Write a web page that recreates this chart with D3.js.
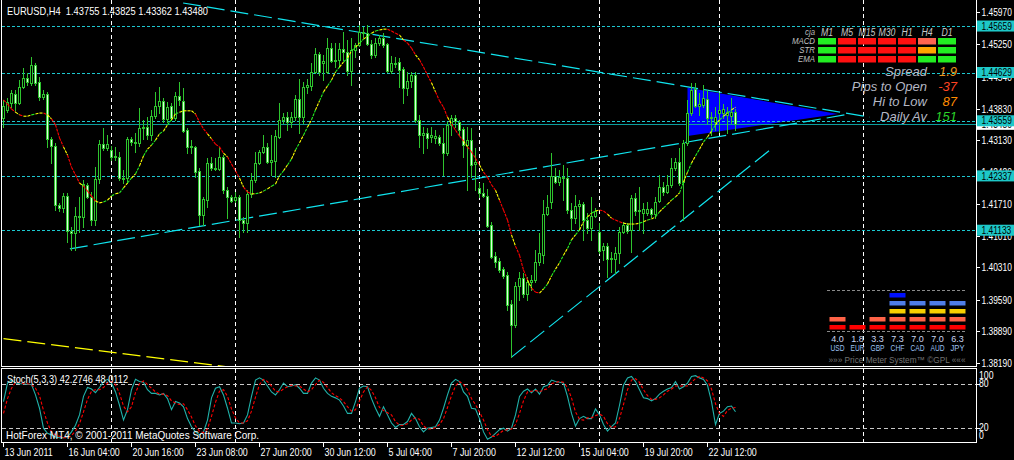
<!DOCTYPE html>
<html><head><meta charset="utf-8">
<script src="https://cdn.jsdelivr.net/npm/d3@7"></script>
<style>
html,body{margin:0;padding:0;background:#000;overflow:hidden}
svg{display:block}
text{font-family:"Liberation Sans",Arial,sans-serif}
</style></head><body>
<svg id="chart" width="1014" height="460"></svg>
<script>
// ---------------- DATA ----------------
const symbolTitle = "EURUSD,H4";
const opens=[1.4362,1.4380,1.4395,1.4415,1.4395,1.4431,1.4451,1.4440,1.4480,1.4442,
1.4409,1.4415,1.4316,1.4300,1.4169,1.4163,1.4189,1.4112,1.4107,1.4145,
1.4143,1.4214,1.4187,1.4136,1.4227,1.4304,1.4296,1.4291,1.4278,1.4276,
1.4229,1.4229,1.4316,1.4309,1.4307,1.4340,1.4342,1.4324,1.4366,1.4389,
1.4400,1.4360,1.4389,1.4362,1.4411,1.4400,1.4335,1.4298,1.4298,1.4245,
1.4147,1.4180,1.4262,1.4251,1.4249,1.4276,1.4202,1.4187,1.4180,1.4187,
1.4136,1.4129,1.4194,1.4225,1.4262,1.4287,1.4298,1.4265,1.4267,1.4320,
1.4358,1.4364,1.4353,1.4364,1.4404,1.4364,1.4431,1.4433,1.4464,1.4504,
1.4484,1.4464,1.4517,1.4488,1.4491,1.4515,1.4508,1.4466,1.4513,1.4524,
1.4553,1.4550,1.4526,1.4502,1.4528,1.4539,1.4526,1.4466,1.4484,1.4486,
1.4471,1.4429,1.4444,1.4457,1.4358,1.4324,1.4329,1.4320,1.4318,1.4320,
1.4307,1.4284,1.4347,1.4362,1.4353,1.4338,1.4302,1.4313,1.4260,1.4207,
1.4196,1.4189,1.4125,1.4056,1.4045,1.4027,1.4014,1.3950,1.3903,1.3990,
1.4007,1.3972,1.3999,1.4003,1.4043,1.4058,1.4149,1.4176,1.4234,1.4220,
1.4231,1.4229,1.4158,1.4140,1.4167,1.4171,1.4136,1.4118,1.4145,1.4109,
1.4069,1.4078,1.4050,1.4050,1.4063,1.4109,1.4125,1.4114,1.4185,1.4156,
1.4151,1.4151,1.4160,1.4149,1.4178,1.4209,1.4198,1.4214,1.4251,1.4265,
1.4220,1.4307,1.4373,1.4426,1.4389,1.4391,1.4404,1.4362,1.4353,1.4373,
1.4373,1.4369,1.4366,1.43755];
const highs=[1.4402,1.4406,1.4424,1.4424,1.4446,1.4473,1.4462,1.4497,1.4484,1.4453,
1.4424,1.4420,1.4320,1.4307,1.4174,1.4196,1.4196,1.4120,1.4165,1.4187,
1.4225,1.4218,1.4198,1.4253,1.4313,1.4340,1.4324,1.4300,1.4298,1.4287,
1.4247,1.4320,1.4320,1.4329,1.4384,1.4358,1.4364,1.4380,1.4420,1.4431,
1.4406,1.4398,1.4395,1.4420,1.4442,1.4429,1.4340,1.4313,1.4300,1.4251,
1.4187,1.4273,1.4276,1.4273,1.4298,1.4280,1.4209,1.4191,1.4198,1.4191,
1.4143,1.4202,1.4240,1.4287,1.4291,1.4324,1.4307,1.4324,1.4335,1.4395,
1.4373,1.4375,1.4375,1.4413,1.4449,1.4442,1.4449,1.4484,1.4517,1.4508,
1.4502,1.4539,1.4528,1.4528,1.4528,1.4553,1.4535,1.4539,1.4528,1.4568,
1.4564,1.4568,1.4535,1.4539,1.4546,1.4550,1.4528,1.4499,1.4497,1.4495,
1.4475,1.4464,1.4464,1.4464,1.4369,1.4342,1.4340,1.4342,1.4335,1.4324,
1.4340,1.4353,1.4369,1.4369,1.4358,1.4342,1.4342,1.4340,1.4296,1.4218,
1.4218,1.4205,1.4132,1.4065,1.4052,1.4032,1.4021,1.3959,1.3999,1.4021,
1.4019,1.4010,1.4014,1.4069,1.4107,1.4180,1.4191,1.4284,1.4251,1.4247,
1.4258,1.4251,1.4174,1.4191,1.4180,1.4176,1.4151,1.4187,1.4163,1.4129,
1.4085,1.4085,1.4065,1.4076,1.4120,1.4132,1.4129,1.4191,1.4196,1.4209,
1.4174,1.4176,1.4163,1.4187,1.4236,1.4220,1.4236,1.4273,1.4273,1.4296,
1.4313,1.4402,1.4440,1.4440,1.4417,1.4435,1.4424,1.4375,1.4386,1.4417,
1.4393,1.4386,1.4406,1.43825];
const lows=[1.4342,1.4375,1.4386,1.4375,1.4393,1.4429,1.4435,1.4435,1.4435,1.4402,
1.4404,1.4298,1.4262,1.4158,1.4156,1.4154,1.4087,1.4069,1.4069,1.4109,
1.4120,1.4185,1.4125,1.4125,1.4218,1.4291,1.4291,1.4269,1.4269,1.4225,
1.4218,1.4218,1.4302,1.4287,1.4300,1.4316,1.4316,1.4313,1.4362,1.4373,
1.4353,1.4353,1.4358,1.4358,1.4391,1.4331,1.4284,1.4284,1.4231,1.4125,
1.4125,1.4165,1.4247,1.4247,1.4247,1.4196,1.4140,1.4176,1.4176,1.4098,
1.4109,1.4109,1.4187,1.4220,1.4260,1.4284,1.4262,1.4236,1.4231,1.4318,
1.4351,1.4335,1.4342,1.4358,1.4329,1.4351,1.4417,1.4424,1.4462,1.4457,
1.4446,1.4462,1.4486,1.4475,1.4475,1.4491,1.4457,1.4435,1.4497,1.4522,
1.4542,1.4524,1.4495,1.4497,1.4524,1.4519,1.4464,1.4462,1.4475,1.4431,
1.4395,1.4413,1.4431,1.4353,1.4298,1.4284,1.4296,1.4309,1.4307,1.4302,
1.4236,1.4280,1.4324,1.4342,1.4324,1.4276,1.4202,1.4231,1.4202,1.4187,
1.4187,1.4120,1.4052,1.4032,1.4021,1.4007,1.3936,1.3832,1.3899,1.3959,
1.3965,1.3959,1.3981,1.3999,1.4036,1.4041,1.4147,1.4163,1.4218,1.4214,
1.4180,1.4151,1.4114,1.4129,1.4114,1.4092,1.4107,1.4092,1.4143,1.4063,
1.4047,1.4010,1.4021,1.4019,1.4041,1.4107,1.4107,1.4065,1.4147,1.4114,
1.4107,1.4147,1.4143,1.4140,1.4176,1.4191,1.4196,1.4209,1.4247,1.4214,
1.4136,1.4302,1.4369,1.4386,1.4369,1.4386,1.4351,1.4324,1.4335,1.4331,
1.4362,1.4329,1.4351,1.43362];
const closes=[1.4389,1.4398,1.4417,1.4395,1.4431,1.4451,1.4442,1.4480,1.4440,1.4409,
1.4415,1.4316,1.4300,1.4169,1.4163,1.4189,1.4112,1.4107,1.4145,1.4143,
1.4216,1.4187,1.4136,1.4227,1.4304,1.4296,1.4304,1.4276,1.4276,1.4229,
1.4227,1.4316,1.4309,1.4307,1.4340,1.4342,1.4324,1.4366,1.4389,1.4400,
1.4360,1.4386,1.4362,1.4411,1.4402,1.4333,1.4298,1.4300,1.4242,1.4147,
1.4183,1.4262,1.4251,1.4249,1.4276,1.4202,1.4187,1.4178,1.4187,1.4136,
1.4129,1.4194,1.4225,1.4262,1.4287,1.4298,1.4265,1.4269,1.4322,1.4358,
1.4364,1.4353,1.4364,1.4404,1.4364,1.4431,1.4435,1.4464,1.4504,1.4464,
1.4488,1.4517,1.4488,1.4491,1.4515,1.4508,1.4466,1.4513,1.4524,1.4553,
1.4550,1.4526,1.4502,1.4528,1.4539,1.4524,1.4466,1.4484,1.4482,1.4468,
1.4429,1.4444,1.4457,1.4358,1.4324,1.4329,1.4318,1.4324,1.4322,1.4307,
1.4284,1.4347,1.4362,1.4355,1.4335,1.4302,1.4313,1.4258,1.4265,1.4196,
1.4189,1.4123,1.4054,1.4043,1.4025,1.4012,1.3948,1.3903,1.3990,1.4007,
1.3972,1.3999,1.4003,1.4043,1.4063,1.4149,1.4165,1.4234,1.4220,1.4231,
1.4229,1.4158,1.4140,1.4167,1.4171,1.4136,1.4118,1.4145,1.4156,1.4067,
1.4078,1.4050,1.4052,1.4063,1.4109,1.4125,1.4112,1.4185,1.4156,1.4158,
1.4160,1.4160,1.4149,1.4176,1.4209,1.4198,1.4214,1.4251,1.4265,1.4218,
1.4307,1.4373,1.4424,1.4389,1.4393,1.4406,1.4362,1.4364,1.4364,1.4380,
1.4382,1.4375,1.4375,1.43480];
const maValues=[1.4402,1.4393,1.4382,1.4375,1.4369,1.4366,1.4366,1.4369,1.4371,1.4373,
1.4373,1.4369,1.4360,1.4347,1.4318,1.4298,1.4280,1.4253,1.4236,1.4218,
1.4211,1.4200,1.4189,1.4178,1.4174,1.4176,1.4180,1.4189,1.4194,1.4196,
1.4207,1.4218,1.4229,1.4238,1.4256,1.4278,1.4293,1.4302,1.4313,1.4327,
1.4333,1.4347,1.4358,1.4371,1.4375,1.4378,1.4378,1.4378,1.4371,1.4353,
1.4338,1.4327,1.4316,1.4304,1.4298,1.4284,1.4276,1.4260,1.4245,1.4229,
1.4209,1.4198,1.4194,1.4194,1.4196,1.4200,1.4205,1.4211,1.4216,1.4234,
1.4245,1.4258,1.4271,1.4291,1.4307,1.4324,1.4342,1.4358,1.4380,1.4400,
1.4420,1.4433,1.4446,1.4464,1.4475,1.4486,1.4495,1.4511,1.4519,1.4528,
1.4537,1.4543,1.4550,1.4555,1.4557,1.4559,1.4559,1.4555,1.4550,1.4546,
1.4535,1.4528,1.4517,1.4502,1.4491,1.4475,1.4457,1.4440,1.4420,1.4400,
1.4386,1.4364,1.4349,1.4335,1.4322,1.4311,1.4298,1.4287,1.4273,1.4258,
1.4242,1.4231,1.4214,1.4202,1.4180,1.4158,1.4136,1.4103,1.4078,1.4058,
1.4025,1.4003,1.3985,1.3976,1.3974,1.3983,1.3994,1.4012,1.4027,1.4041,
1.4058,1.4073,1.4092,1.4103,1.4114,1.4132,1.4143,1.4151,1.4156,1.4158,
1.4156,1.4149,1.4140,1.4136,1.4132,1.4129,1.4127,1.4127,1.4127,1.4129,
1.4132,1.4136,1.4138,1.4143,1.4154,1.4163,1.4171,1.4180,1.4187,1.4196,
1.4220,1.4242,1.4262,1.4278,1.4293,1.4309,1.4320,1.4333,1.4347,1.4358,
1.4366,1.4373,1.4380,1.4386];
const stochMain=[56,81,85,81,80,80,79,79,65,47,
20,13,11,8,7,7,8,15,24,38,
63,75,73,68,75,83,86,81,69,51,
31,45,72,86,83,82,72,67,67,65,
67,60,45,56,54,49,33,22,15,11,
15,31,61,74,76,65,47,27,27,26,
27,38,63,85,88,85,77,69,65,72,
81,76,77,79,74,67,67,81,88,85,
74,67,63,61,58,50,40,40,56,74,
77,76,60,47,36,49,38,27,21,25,
25,29,40,33,22,15,20,21,22,31,
47,65,81,86,83,69,63,47,46,33,
15,5,8,13,18,20,16,20,38,63,
70,73,68,73,66,76,78,85,83,82,
81,63,40,23,33,36,33,33,46,38,
25,16,22,27,51,78,88,90,83,72,
61,60,57,60,66,70,73,75,83,73,
76,81,90,91,88,86,78,56,25,40,
43,49,50,42.2746];
const stochSignal=[40,60,74,82,82,80,80,79,74,64,
44,27,15,11,9,7,7,10,16,26,
42,59,70,72,72,75,81,83,79,67,
50,42,49,68,80,84,79,74,69,66,
66,64,57,54,52,53,45,35,23,16,
14,19,36,55,70,72,63,46,34,27,
27,30,43,62,79,86,83,77,70,69,
73,76,78,77,77,73,69,72,79,85,
82,75,68,64,61,56,49,43,45,57,
69,76,71,61,48,44,41,38,29,24,
24,26,31,34,32,23,19,19,21,25,
33,48,64,77,83,79,72,60,52,42,
31,18,9,9,13,17,18,19,25,40,
57,69,70,71,69,72,73,80,82,83,
82,75,61,42,32,31,34,34,37,39,
36,26,21,22,33,52,72,85,87,82,
72,64,59,59,61,65,70,73,77,77,
77,77,82,87,90,88,84,73,53,40,
36,44,47,48.0112];
const timeLabels=["13 Jun 2011","16 Jun 04:00","20 Jun 16:00","23 Jun 08:00","27 Jun 20:00","30 Jun 12:00",
"5 Jul 04:00","7 Jul 20:00","12 Jul 12:00","15 Jul 04:00","19 Jul 20:00","22 Jul 12:00"];
const timeLabelEvery=16;
const gridBars=[27,58,89,119,149,179,215];
const priceTicks=[1.45970,1.45250,1.44540,1.43830,1.43130,1.42420,1.41710,1.41010,1.40310,1.39590,1.38890,1.38190];
const levelPrices=[1.45659,1.44629,1.43559,1.42337,1.41133];
const bidPrice=1.43480;
const stochLevels=[80,20];
const stochAxisLabels=[100,80,20,0];
const trendUpper=[[44.9,1.4617],[216.6,1.4364]];
const trendLower=[[16.6,1.4072],[211.6,1.4371]];
const trendSteep=[[127,1.3832],[191.6,1.4291]];
const trendYellow=[[0,1.3873],[60,1.3806]];
const triangle=[[171,1.4429],[171,1.4322],[208.6,1.4371]];
const timeframes=["M1","M5","M15","M30","H1","H4","D1"];
const signalRows=["MACD","STR","EMA"];
const signalStates=[["up","dn","dn","dn","dn","weak","up"],
                    ["up","dn","dn","dn","dn","mid","up"],
                    ["up","dn","dn","dn","dn","up","up"]];
const infoLabels=["Spread","Pips to Open","Hi to Low","Daily Av"];
const infoValues=["1.9","-37","87","151"];
const currencies=["USD","EUR","GBP","CHF","CAD","AUD","JPY"];
const strengths=["4.0","1.8","3.3","7.3","7.0","7.0","6.3"];
const meterBlocks=[2,1,2,5,4,4,4];

// ---------------- DRAW ----------------
const svg=d3.select("#chart");
const W=1014,H=460;
const green="#2ec42e", bearFill="#dcffdc";
const x=d3.scaleLinear().domain([0,183]).range([3.5,735.5]);
const y=d3.scaleLinear().domain([1.38190,1.45970]).range([363,12]);
const ys=d3.scaleLinear().domain([0,100]).range([443,369]);
const fmt=d3.format(".5f");
function squeeze(t,f){const w=t.node().getComputedTextLength();t.attr("textLength",(w*f).toFixed(2)).attr("lengthAdjust","spacingAndGlyphs");return t;}
function fitTo(t,w){t.attr("textLength",w).attr("lengthAdjust","spacingAndGlyphs");return t;}
const SQ=0.87;

svg.append("rect").attr("width",W).attr("height",H).attr("fill","#000");
const defs=svg.append("defs");
defs.append("clipPath").attr("id","clipMain").append("rect").attr("x",2).attr("y",0).attr("width",974).attr("height",366);
defs.append("clipPath").attr("id","clipSt").append("rect").attr("x",2).attr("y",369).attr("width",974).attr("height",73);

const main=svg.append("g").attr("clip-path","url(#clipMain)");
const st=svg.append("g").attr("clip-path","url(#clipSt)");

// vertical grid
gridBars.forEach(b=>{
  const gx=Math.round(x(b)-0.5)+0.5;
  main.append("line").attr("x1",gx).attr("x2",gx).attr("y1",0).attr("y2",366)
    .attr("stroke","#ffffff").attr("stroke-dasharray","4,3").attr("shape-rendering","crispEdges");
  st.append("line").attr("x1",gx).attr("x2",gx).attr("y1",369).attr("y2",442)
    .attr("stroke","#ffffff").attr("stroke-dasharray","4,3").attr("shape-rendering","crispEdges");
});

// triangle
main.append("polygon").attr("points",triangle.map(p=>[x(p[0]),y(p[1])].join(",")).join(" "))
  .attr("fill","#0000ff");

// horizontal levels
levelPrices.forEach(p=>{
  const ly=Math.round(y(p))+0.5;
  main.append("line").attr("x1",2).attr("x2",976).attr("y1",ly).attr("y2",ly)
    .attr("stroke","#1cc8d0").attr("stroke-dasharray","3,2").attr("shape-rendering","crispEdges");
});
{
  const by=Math.round(y(bidPrice))+0.5;
  main.append("line").attr("x1",2).attr("x2",976).attr("y1",by).attr("y2",by)
    .attr("stroke","#0a9e9e").attr("shape-rendering","crispEdges");
}

// trendlines
const tl=(pts,col)=>main.append("line")
  .attr("x1",x(pts[0][0])).attr("y1",y(pts[0][1])).attr("x2",x(pts[1][0])).attr("y2",y(pts[1][1]))
  .attr("stroke",col).attr("stroke-width",1.2).attr("stroke-dasharray","18,6");
tl(trendUpper,"#10e4ee");
tl(trendLower,"#10e4ee");
tl(trendSteep,"#10e4ee");
tl(trendYellow,"#ffff00");

// candles
const cg=main.append("g").attr("shape-rendering","crispEdges");
opens.forEach((o,i)=>{
  const xc=x(i);
  const yh=Math.round(y(highs[i])), yl=Math.round(y(lows[i]));
  cg.append("line").attr("x1",xc).attr("x2",xc).attr("y1",yh).attr("y2",yl+1).attr("stroke",green);
  const yo=Math.round(y(o)), yc=Math.round(y(closes[i]));
  const top=Math.min(yo,yc), bot=Math.max(yo,yc);
  const bear=closes[i]<o;
  if(bot-top<1){
    cg.append("line").attr("x1",xc-1.5).attr("x2",xc+1.5).attr("y1",top+0.5).attr("y2",top+0.5).attr("stroke",green);
  } else {
    cg.append("rect").attr("x",xc-1).attr("y",top+0.5).attr("width",2).attr("height",bot-top)
      .attr("fill",bear?bearFill:"#000").attr("stroke",green);
  }
});

// moving average (multi-colour)
const maG=main.append("g");
for(let i=1;i<maValues.length;i++){
  const d=maValues[i]-maValues[i-1];
  let col;
  if(Math.abs(d)<0.00012) col="#ffff00";
  else if(d<0) col=(i%4===0)?"#ffff00":"#ff0000";
  else col=(i%2===0)?"#22ee22":"#ffff00";
  maG.append("line").attr("x1",x(i-1)).attr("y1",y(maValues[i-1])).attr("x2",x(i)).attr("y2",y(maValues[i]))
    .attr("stroke",col).attr("stroke-width",1.1).attr("stroke-dasharray","3,1");
}

// stochastic
st.selectAll(".lvl").data(stochLevels).enter().append("line")
  .attr("x1",2).attr("x2",976).attr("y1",d=>Math.round(ys(d))+0.5).attr("y2",d=>Math.round(ys(d))+0.5)
  .attr("stroke","#c8c8c8").attr("stroke-dasharray","4,3").attr("shape-rendering","crispEdges");
st.append("path").datum(stochMain).attr("fill","none").attr("stroke","#20b2aa").attr("stroke-width",1.1)
  .attr("d",d3.line().x((d,i)=>x(i)).y(d=>ys(d)));
st.append("path").datum(stochSignal).attr("fill","none").attr("stroke","#ff0000").attr("stroke-width",1.1)
  .attr("stroke-dasharray","3,2").attr("d",d3.line().x((d,i)=>x(i)).y(d=>ys(d)));

// frames
const fr=svg.append("g").attr("stroke","#ffffff").attr("shape-rendering","crispEdges");
fr.append("line").attr("x1",1.5).attr("x2",1.5).attr("y1",0).attr("y2",367);
fr.append("line").attr("x1",1.5).attr("x2",1.5).attr("y1",368).attr("y2",443);
fr.append("line").attr("x1",976.5).attr("x2",976.5).attr("y1",0).attr("y2",367);
fr.append("line").attr("x1",976.5).attr("x2",976.5).attr("y1",368).attr("y2",443);
fr.append("line").attr("x1",1).attr("x2",977).attr("y1",366.5).attr("y2",366.5);
fr.append("line").attr("x1",1).attr("x2",977).attr("y1",368.5).attr("y2",368.5);
fr.append("line").attr("x1",1).attr("x2",977).attr("y1",442.5).attr("y2",442.5);

// price axis
const AXQ=0.84;
const ax=svg.append("g");
priceTicks.forEach(p=>{
  const ty=Math.round(y(p))+0.5;
  ax.append("line").attr("x1",977).attr("x2",980).attr("y1",ty).attr("y2",ty).attr("stroke","#fff").attr("shape-rendering","crispEdges");
  squeeze(ax.append("text").attr("x",981.5).attr("y",ty).attr("dy","0.36em").attr("fill","#fff").attr("font-size","10px").text(fmt(p)),AXQ);
});
{
  const by=y(bidPrice);
  ax.append("rect").attr("x",977).attr("y",by-5.5).attr("width",37).attr("height",11).attr("fill","#ffffff");
  squeeze(ax.append("text").attr("x",981.5).attr("y",by).attr("dy","0.36em").attr("fill","#000").attr("font-size","10px").text(fmt(bidPrice)),AXQ);
}
levelPrices.forEach(p=>{
  const ly=y(p);
  ax.append("rect").attr("x",977).attr("y",ly-5.5).attr("width",37).attr("height",11).attr("fill","#1ec8c8");
  squeeze(ax.append("text").attr("x",981.5).attr("y",ly).attr("dy","0.36em").attr("fill","#000").attr("font-size","10px").text(fmt(p)),AXQ);
});
// stoch axis
const stLabelY={100:375,80:383,20:427,0:435};
stochAxisLabels.forEach(v=>{
  squeeze(ax.append("text").attr("x",979).attr("y",stLabelY[v]).attr("dy","0.36em").attr("fill","#fff").attr("font-size","10px").text(v),SQ);
});
stochLevels.forEach(v=>{
  const ty=Math.round(ys(v))+0.5;
  ax.append("line").attr("x1",977).attr("x2",980).attr("y1",ty).attr("y2",ty).attr("stroke","#fff").attr("shape-rendering","crispEdges");
});

// time axis
timeLabels.forEach((t,k)=>{
  const tx=Math.round(x(k*timeLabelEvery)-0.5)+0.5;
  ax.append("line").attr("x1",tx).attr("x2",tx).attr("y1",443).attr("y2",447).attr("stroke","#fff").attr("shape-rendering","crispEdges");
  squeeze(ax.append("text").attr("x",tx+1).attr("y",456).attr("fill","#fff").attr("font-size","10.2px").text(t),SQ);
});

// header texts
fitTo(svg.append("text").attr("x",7).attr("y",15).attr("fill","#fff").attr("font-size","10.5px")
  .attr("xml:space","preserve")
  .text(symbolTitle+"  "+[opens[183],highs[183],lows[183],closes[183]].map(fmt).join(" ")),201);
fitTo(svg.append("text").attr("x",7).attr("y",382.5).attr("fill","#fff").attr("font-size","10.5px")
  .text("Stoch(5,3,3) "+stochMain[183].toFixed(4)+" "+stochSignal[183].toFixed(4)),121);
fitTo(svg.append("text").attr("x",6).attr("y",438.5).attr("fill","#fff").attr("font-size","10.5px")
  .text("HotForex MT4, \u00a9 2001-2011 MetaQuotes Software Corp."),253);

// signal panel
const sp=svg.append("g");
const cellColor={up:"#22ee22",dn:"#ff1010",weak:"#ff6450",mid:"#ffa500"};
squeeze(sp.append("text").attr("x",815).attr("y",31.5).attr("dy","0.35em").attr("text-anchor","end")
  .attr("font-size","9px").attr("font-style","italic").attr("fill","#b8b8b8").text("cja"),SQ);
timeframes.forEach((tf,k)=>{
  squeeze(sp.append("text").attr("x",827+20*k).attr("y",32).attr("dy","0.35em").attr("text-anchor","middle")
    .attr("font-size","10px").attr("font-style","italic").attr("fill","#c8c8c8").text(tf),SQ);
});
signalRows.forEach((r,ri)=>{
  squeeze(sp.append("text").attr("x",815).attr("y",41+9*ri).attr("dy","0.35em").attr("text-anchor","end")
    .attr("font-size","9px").attr("font-style","italic").attr("fill","#c0c0c0").text(r),SQ);
  signalStates[ri].forEach((s,k)=>{
    sp.append("rect").attr("x",818+20*k).attr("y",38+9*ri).attr("width",18).attr("height",6.5).attr("fill",cellColor[s]);
  });
});
const infoColors=["#e8961e","#ff4422","#ff8c00","#2ad42a"];
infoLabels.forEach((l,k)=>{
  const ly=71+15*k;
  sp.append("text").attr("x",927).attr("y",ly).attr("dy","0.35em").attr("text-anchor","end")
    .attr("font-size","13px").attr("font-style","italic").attr("fill","#b4b8c4").text(l);
  sp.append("text").attr("x",957).attr("y",ly).attr("dy","0.35em").attr("text-anchor","end")
    .attr("font-size","13px").attr("font-style","italic").attr("fill",infoColors[k]).text(infoValues[k]);
});

// price meter
const pm=svg.append("g");
const blockColors=["#ff0000","#ff6347","#f8d000","#4f7ee6","#0010ff"];
[290.5,331.5].forEach(ly=>pm.append("line").attr("x1",827).attr("x2",967).attr("y1",ly).attr("y2",ly)
  .attr("stroke","#8a8a8a").attr("stroke-dasharray","3,2"));
currencies.forEach((c,k)=>{
  const cx=837.5+20*k;
  for(let j=0;j<meterBlocks[k];j++){
    pm.append("rect").attr("x",cx-8).attr("y",325-8*j).attr("width",16).attr("height",4.5).attr("fill",blockColors[j]);
  }
  pm.append("text").attr("x",cx).attr("y",338.5).attr("dy","0.35em").attr("text-anchor","middle")
    .attr("font-size","9px").attr("fill","#c8d4f0").text(strengths[k]);
  fitTo(pm.append("text").attr("x",cx).attr("y",348).attr("dy","0.35em").attr("text-anchor","middle")
    .attr("font-size","8.5px").attr("fill","#9cc0f0").text(c),14);
});
fitTo(pm.append("text").attr("x",897).attr("y",360).attr("dy","0.35em").attr("text-anchor","middle")
  .attr("font-size","8.5px").attr("fill","#707070").text("\u00bb\u00bb\u00bb Price Meter System\u2122 \u00a9GPL \u00ab\u00ab\u00ab"),137);
</script>
</body></html>
